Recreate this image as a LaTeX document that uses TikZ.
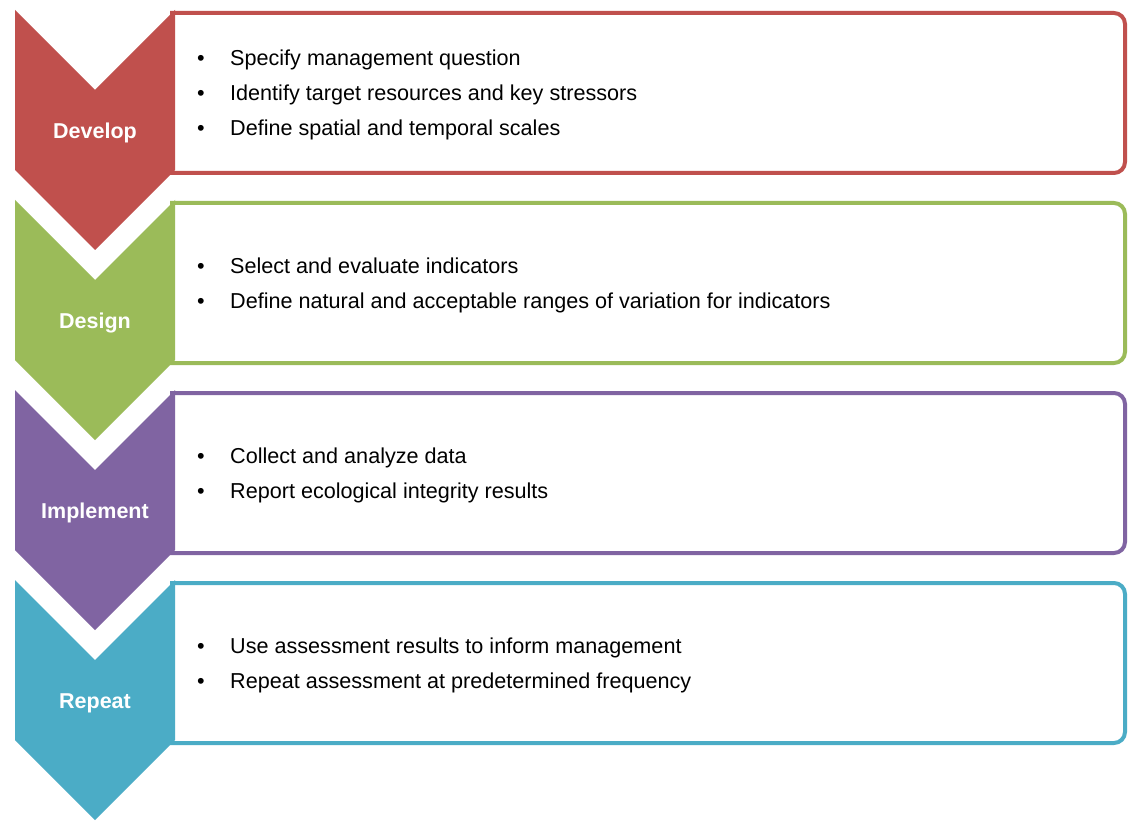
\documentclass[tikz,border=0pt]{standalone}
\usepackage{fontspec}
\setmainfont{Liberation Sans}
\usepackage{xcolor}
\definecolor{devred}{HTML}{C0504D}
\definecolor{desgreen}{HTML}{9BBB59}
\definecolor{implpurple}{HTML}{8064A2}
\definecolor{repblue}{HTML}{4BACC6}
\newcommand{\bitem}{\makebox[33pt][l]{\textbullet}}

\begin{document}
\begin{tikzpicture}[x=1pt,y=-1pt,
  stagebox/.style={draw=#1,line width=4pt,rounded corners=11pt},
  chevron/.style={fill=#1},
  stagelabel/.style={text=white,font=\fontsize{21.5}{25}\selectfont\bfseries},
  bullets/.style={anchor=west,inner sep=0pt,align=left,font=\fontsize{21.6}{35}\selectfont}]
  \useasboundingbox (0,0) rectangle (1128,821);
  \fill[white] (0,0) rectangle (1128,821);
  \foreach \i/\col/\lab/\txt in {
    0/devred/Develop/{\bitem Specify management question\\
      \bitem Identify target resources and key stressors\\
      \bitem Define spatial and temporal scales},
    1/desgreen/Design/{\bitem Select and evaluate indicators\\
      \bitem Define natural and acceptable ranges of variation for indicators},
    2/implpurple/Implement/{\bitem Collect and analyze data\\
      \bitem Report ecological integrity results},
    3/repblue/Repeat/{\bitem Use assessment results to inform management\\
      \bitem Repeat assessment at predetermined frequency}} {
    \pgfmathsetmacro{\t}{10+190*\i}
    % box for the bullet points, left end hidden under the chevron
    \draw[stagebox=\col] (170,\t+3) -- (1125,\t+3) -- (1125,\t+163) -- (170,\t+163);
    \fill[chevron=\col] (15,\t) -- (95,\t+80) -- (175,\t) -- (175,\t+160)
      -- (95,\t+240) -- (15,\t+160) -- cycle;
    \node[stagelabel] (lab\i) at (95,\t+123) {\lab};
    \node[bullets] (txt\i) at (197,\t+85) {\txt};
  }
\end{tikzpicture}
\end{document}
